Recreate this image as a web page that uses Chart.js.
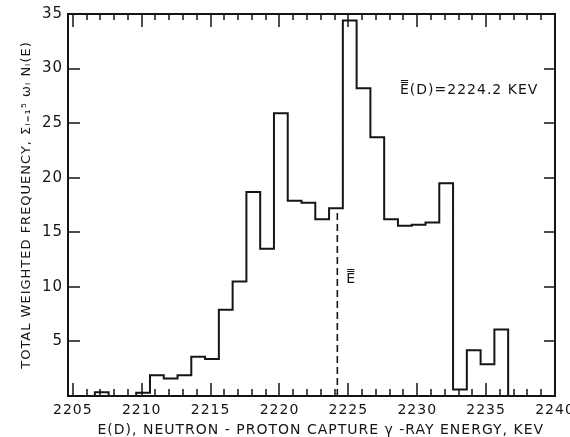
<!DOCTYPE html>
<html>
<head>
<meta charset="utf-8">
<title>Neutron-proton capture gamma-ray energy</title>
<script src="https://cdn.jsdelivr.net/npm/chart.js@4.4.1/dist/chart.umd.min.js"></script>
<style>
  html, body { margin:0; padding:0; background:#fff; }
</style>
</head>
<body>
<canvas id="chart" width="570" height="437"></canvas>
<script>
// ---- data (1 keV bins) ----
const binLeft = [2206.6, 2207.6, 2208.6, 2209.6, 2210.6, 2211.6, 2212.6, 2213.6, 2214.6, 2215.6,
                 2216.6, 2217.6, 2218.6, 2219.6, 2220.6, 2221.6, 2222.6, 2223.6, 2224.6, 2225.6,
                 2226.6, 2227.6, 2228.6, 2229.6, 2230.6, 2231.6, 2232.6, 2233.6, 2234.6, 2235.6];
const binWidth = 1;
const freq = [0.35, 0, 0, 0.3, 1.9, 1.6, 1.9, 3.6, 3.4, 7.9,
              10.5, 18.7, 13.5, 25.9, 17.9, 17.7, 16.2, 17.2, 34.4, 28.2,
              23.7, 16.2, 15.6, 15.7, 15.9, 19.5, 0.6, 4.2, 2.9, 6.1];
const meanE = 2224.2;          // dashed line
const meanTop = 17.2;          // dashed line runs up to the histogram
const xTickLabels = [2205, 2210, 2215, 2220, 2225, 2230, 2235, 2240];
const yTickLabels = [5, 10, 15, 20, 25, 30, 35];
const xTitle = 'E(D), NEUTRON - PROTON CAPTURE \u03B3 -RAY ENERGY, KEV  ';
const yTitle = 'TOTAL WEIGHTED FREQUENCY, \u03A3\u1D62\u208C\u2081\u2075 \u03C9\u1D62 N\u1D62(E)';
const meanNote = 'E\u033F(D)=2224.2 KEV';
const lineNote = 'E\u033F';

const ink = '#151515';
const face = '"DejaVu Sans", sans-serif';

// histogram outline: each bin gives its left and right corner
const outline = [{x: binLeft[0], y: 0}];
binLeft.forEach((b, i) => {
  outline.push({x: b, y: freq[i]});
  outline.push({x: b + binWidth, y: freq[i]});
});
outline.push({x: binLeft[binLeft.length - 1] + binWidth, y: 0});

// canvas letter spacing (state gets reset on resize, so set it each pass)
const spacing = {
  id: 'spacing',
  beforeUpdate(chart){ chart.ctx.letterSpacing = '1px'; },
  beforeDraw(chart){ chart.ctx.letterSpacing = '1px'; }
};

// box, inward ticks and the two notes
const frame = {
  id: 'frame',
  afterDatasetsDraw(chart){
    const {ctx, chartArea: a, scales: {x, y}} = chart;
    ctx.save();
    ctx.strokeStyle = ink;
    ctx.lineWidth = 2;
    ctx.strokeRect(a.left, a.top, a.right - a.left, a.bottom - a.top);

    ctx.lineWidth = 1.5;
    ctx.beginPath();
    for(let v = xTickLabels[0]; v <= xTickLabels[xTickLabels.length - 1]; v++){
      const px = Math.round(x.getPixelForValue(v));
      const big = v % 5 === 0;
      ctx.moveTo(px, a.bottom); ctx.lineTo(px, a.bottom - (big ? 13 : 7));
      ctx.moveTo(px, a.top);    ctx.lineTo(px, a.top + (big ? 13 : 6));
    }
    yTickLabels.forEach(v => {
      const py = Math.round(y.getPixelForValue(v));
      ctx.moveTo(a.left, py);  ctx.lineTo(a.left + 12, py);
      ctx.moveTo(a.right, py); ctx.lineTo(a.right - 11, py);
    });
    ctx.stroke();

    ctx.fillStyle = ink;
    ctx.font = '14px ' + face;
    ctx.textBaseline = 'middle';
    ctx.textAlign = 'left';
    ctx.fillText(meanNote, x.getPixelForValue(2228.75), y.getPixelForValue(28));
    ctx.fillText(lineNote, x.getPixelForValue(2224.85), y.getPixelForValue(10.7));
    ctx.restore();
  }
};

window.addEventListener('load', ()=>{
  const ctx = document.getElementById('chart').getContext('2d');
  new Chart(ctx, {
    type: 'line',
    data: {
      datasets: [
        {data: outline, borderColor: ink, borderWidth: 2, pointRadius: 0, tension: 0, fill: false},
        {data: [{x: meanE, y: 0}, {x: meanE, y: meanTop}], borderColor: ink, borderWidth: 1.6,
         borderDash: [7, 4], pointRadius: 0, fill: false}
      ]
    },
    options: {
      responsive: false,
      animation: false,
      devicePixelRatio: 1,
      layout: {padding: {top: 14, right: 15, left: 0, bottom: 0}},
      plugins: {legend: {display: false}, tooltip: {enabled: false}},
      scales: {
        x: {
          type: 'linear', min: 2204.65, max: 2240,
          grid: {display: false, drawTicks: false},
          border: {display: false},
          ticks: {
            stepSize: 5, includeBounds: false, autoSkip: false, maxRotation: 0,
            padding: 6, color: ink, font: {family: face, size: 14},
            callback: v => xTickLabels.includes(v) ? String(v) : ''
          },
          title: {display: true, text: xTitle, color: ink, align: 'end',
                  font: {family: face, size: 14, lineHeight: 1}, padding: {top: 0, bottom: 0}},
          afterFit: s => { s.height = 41; s.paddingLeft = 0; s.paddingRight = 0; }
        },
        y: {
          min: 0, max: 35,
          grid: {display: false, drawTicks: false},
          border: {display: false},
          ticks: {
            stepSize: 5, padding: 5, color: ink, font: {family: face, size: 15},
            callback: v => yTickLabels.includes(v) ? String(v) : ''
          },
          title: {display: true, text: yTitle, color: ink,
                  font: {family: face, size: 13, lineHeight: 1}, padding: {top: 20, bottom: 0}},
          afterFit: s => { s.width = 68; s.paddingTop = 0; s.paddingBottom = 0; }
        }
      }
    },
    plugins: [spacing, frame]
  });
});
</script>
</body>
</html>
